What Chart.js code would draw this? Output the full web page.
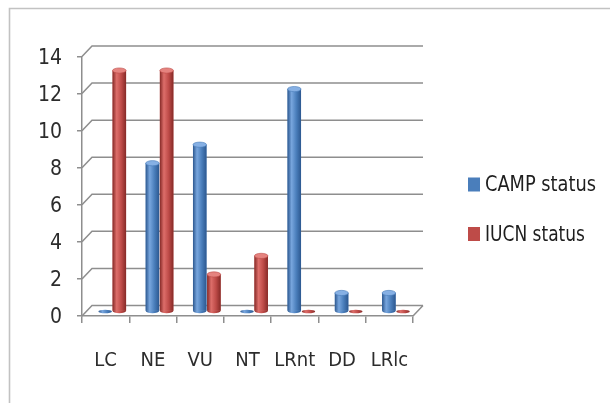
<!DOCTYPE html>
<html>
<head>
<meta charset="utf-8">
<script src="https://cdn.jsdelivr.net/npm/chart.js@4/dist/chart.umd.min.js"></script>
<style>
  html, body { margin: 0; padding: 0; background: #ffffff; }
  #wrap { width: 610px; height: 403px; position: relative; }
</style>
</head>
<body>
<div id="wrap"><canvas id="c" width="610" height="403"></canvas></div>
<script>
// Conservation status counts
const categories = ['LC', 'NE', 'VU', 'NT', 'LRnt', 'DD', 'LRlc'];
const campStatus = [0, 8, 9, 0, 12, 1, 1];
const iucnStatus = [13, 13, 2, 3, 0, 0, 0];
const seriesNames = ['CAMP status', 'IUCN status'];

const FONT = "'DejaVu Sans Condensed', 'Liberation Sans Narrow', sans-serif";
const GRID = '#8e8e8e';
const TEXT = '#2c2c2c';

// depth of the 3-D box (back wall) and of the bar row
const WALL_DX = 10, WALL_DY = 10.5;
const BAR_DX = 6.6, BAR_DY = 4.5;

const palette = {
  blue: { base: '#4a7ebb', edge: '#2c5890', light: '#78a6de', top: '#86b0e4' },
  red:  { base: '#be4b48', edge: '#862a27', light: '#dd6e6a', top: '#e5837f' }
};

// outer frame of the figure
const framePlugin = {
  id: 'frame',
  beforeDraw(chart) {
    const ctx = chart.ctx;
    ctx.save();
    ctx.fillStyle = '#ffffff';
    ctx.fillRect(0, 0, chart.width, chart.height);
    ctx.strokeStyle = '#c2c2c2';
    ctx.lineWidth = 1.6;
    ctx.beginPath();
    ctx.moveTo(9.5, chart.height);
    ctx.lineTo(9.5, 8.5);
    ctx.lineTo(chart.width, 8.5);
    ctx.stroke();
    ctx.restore();
  }
};

// back wall gridlines, side-wall diagonals and floor edge
const wallPlugin = {
  id: 'wall3d',
  beforeDatasetsDraw(chart) {
    const { ctx, chartArea: a, scales: { y } } = chart;
    ctx.save();
    ctx.strokeStyle = GRID;
    ctx.lineWidth = 1.5;
    ctx.beginPath();
    y.ticks.forEach(t => {
      const py = y.getPixelForValue(t.value);
      ctx.moveTo(a.left, py);
      ctx.lineTo(a.left + WALL_DX, py - WALL_DY);
      ctx.lineTo(a.right + WALL_DX, py - WALL_DY);
    });
    const p0 = y.getPixelForValue(0);
    ctx.moveTo(a.right, p0);
    ctx.lineTo(a.right + WALL_DX, p0 - WALL_DY);
    ctx.stroke();
    ctx.restore();
  }
};

// bars sit in the middle of the box depth and are shaded as cylinders
const cylinderPlugin = {
  id: 'cylinders',
  beforeDatasetsDraw(chart) {
    chart.ctx.save();
    chart.ctx.translate(BAR_DX, -BAR_DY);
  },
  afterDatasetsDraw(chart) {
    const ctx = chart.ctx;
    chart.data.datasets.forEach((ds, di) => {
      const meta = chart.getDatasetMeta(di);
      const pal = ds.shade;
      meta.data.forEach(el => {
        const { x, y, base, width } = el.getProps(['x', 'y', 'base', 'width'], true);
        const left = x - width / 2;
        const rx = width / 2;
        const ry = 2.6;
        const g = ctx.createLinearGradient(left, 0, left + width, 0);
        g.addColorStop(0, pal.edge);
        g.addColorStop(0.3, pal.light);
        g.addColorStop(0.65, pal.base);
        g.addColorStop(1, pal.edge);
        ctx.fillStyle = g;
        if (base - y > 0.5) {
          ctx.fillRect(left, y, width, base - y);
          ctx.beginPath();
          ctx.ellipse(x, base, rx, ry, 0, 0, Math.PI);
          ctx.fill();
          ctx.beginPath();
          ctx.ellipse(x, y, rx, ry, 0, 0, Math.PI * 2);
          ctx.fillStyle = pal.top;
          ctx.fill();
          ctx.strokeStyle = pal.base;
          ctx.lineWidth = 0.6;
          ctx.stroke();
        } else {
          // zero value: flat disc on the floor
          ctx.beginPath();
          ctx.ellipse(x, base, rx, 1.8, 0, 0, Math.PI * 2);
          ctx.fillStyle = g;
          ctx.fill();
        }
      });
    });
    ctx.restore();
  }
};

// legend at the right side
const sideLegend = {
  id: 'sideLegend',
  afterDraw(chart) {
    const ctx = chart.ctx;
    const x0 = 468, y0 = 184.5, step = 49.5;
    ctx.save();
    ctx.font = '22px ' + FONT;
    ctx.textBaseline = 'middle';
    ctx.textAlign = 'left';
    chart.data.datasets.forEach((ds, i) => {
      const cy = y0 + i * step;
      ctx.fillStyle = ds.backgroundColor;
      ctx.fillRect(x0, cy - 7, 12, 14);
      ctx.fillStyle = '#1e1e1e';
      const w = ctx.measureText(ds.label).width;
      const target = i === 0 ? 111 : 100;
      ctx.save();
      ctx.translate(x0 + 17, cy + 1);
      ctx.scale(Math.min(1, target / w), 1);
      ctx.fillText(ds.label, 0, 0);
      ctx.restore();
    });
    ctx.restore();
  }
};

new Chart(document.getElementById('c'), {
  type: 'bar',
  data: {
    labels: categories,
    datasets: [
      { label: seriesNames[0], data: campStatus, backgroundColor: palette.blue.base, shade: palette.blue },
      { label: seriesNames[1], data: iucnStatus, backgroundColor: palette.red.base, shade: palette.red }
    ]
  },
  options: {
    responsive: false,
    devicePixelRatio: 1,
    animation: false,
    layout: { padding: { left: 10, top: 56.5, right: 197, bottom: 0 } },
    datasets: {
      bar: { categoryPercentage: 0.6, barPercentage: 0.95, borderWidth: 0, clip: false }
    },
    plugins: {
      legend: { display: false },
      tooltip: { enabled: false }
    },
    scales: {
      x: {
        offset: true,
        grid: { display: true, offset: true, drawOnChartArea: false, drawTicks: true, tickLength: 7, color: GRID, lineWidth: 1.5 },
        border: { display: true, color: GRID, width: 1.5 },
        ticks: { color: TEXT, font: { family: FONT, size: 20 }, padding: 26, maxRotation: 0, autoSkip: false },
        afterFit(s) { s.height = 87; }
      },
      y: {
        min: 0,
        max: 14,
        ticks: { stepSize: 2, color: TEXT, font: { family: FONT, size: 21 }, padding: 15, labelOffset: 2 },
        grid: { drawOnChartArea: false, drawTicks: true, tickLength: 5, color: GRID, lineWidth: 1.5 },
        border: { display: true, color: GRID, width: 1.5 },
        afterFit(s) { s.width = 72; }
      }
    }
  },
  plugins: [framePlugin, wallPlugin, cylinderPlugin, sideLegend]
});
</script>
</body>
</html>
